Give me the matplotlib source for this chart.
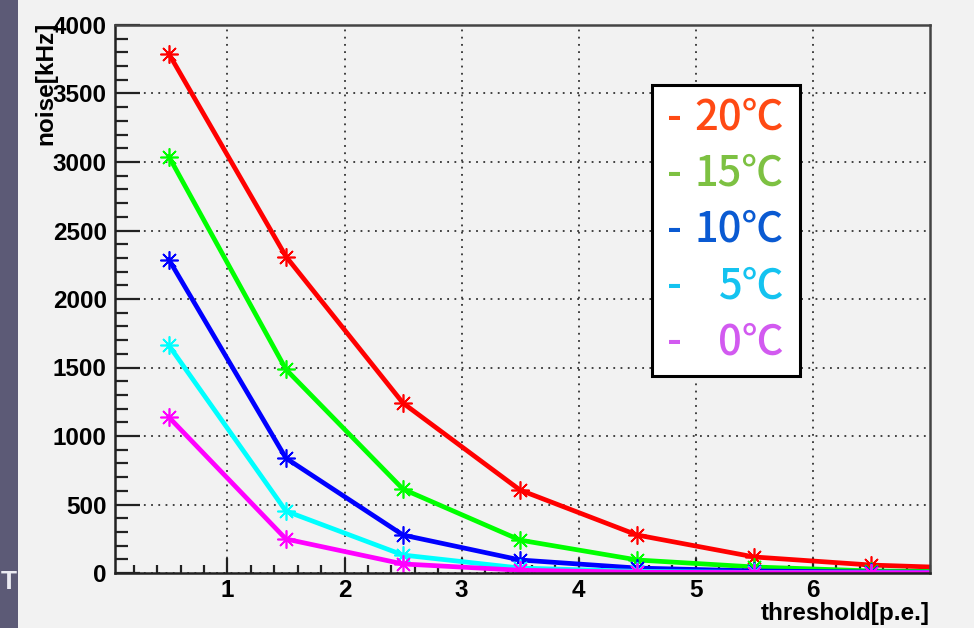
import matplotlib
matplotlib.use("Agg")
import matplotlib.pyplot as plt
from matplotlib.patches import Rectangle
from matplotlib.ticker import MultipleLocator

# Dark-count noise rate vs. discrimination threshold at several temperatures
threshold = [0.5, 1.5, 2.5, 3.5, 4.5, 5.5, 6.5, 7.5]
noise_20c = [3790, 2310, 1240, 605, 277, 117, 58, 30]
noise_15c = [3040, 1486, 612, 240, 95, 44, 15, 8]
noise_10c = [2288, 838, 277, 95, 36, 15, 7, 4]
noise_5c = [1661, 452, 131, 36, 12, 4, 2, 1]
noise_0c = [1137, 248, 66, 20, 6, 3, 2, 1]

series = [noise_20c, noise_15c, noise_10c, noise_5c, noise_0c]
line_colors = ["#ff0000", "#00ff00", "#0000ff", "#00ffff", "#ff00ff"]

legend_labels = ["20℃", "15℃", "10℃", "5℃", "0℃"]
legend_colors = ["#ff4a14", "#7dc142", "#0a5ad2", "#14c3f0", "#d25af0"]

W, H = 974, 628
fig = plt.figure(figsize=(W / 100, H / 100), dpi=100)
fig.patch.set_facecolor("#f2f2f2")

# slide background strip on the left edge
fig.add_artist(Rectangle((0, 0), 18 / W, 1, transform=fig.transFigure,
                         facecolor="#5c5a76", edgecolor="none", zorder=0))
fig.text(0.5 / W, 1 - 570 / H, "T", ha="left", va="top", color="#ebebf2",
         fontsize=19, fontweight="bold", fontfamily="Liberation Sans")

ax = fig.add_axes([115 / W, 1 - 573 / H, (930 - 115) / W, (573 - 25) / H])
ax.set_facecolor("#f2f2f2")

for vals, col in zip(series, line_colors):
    ax.plot(threshold, vals, color=col, linewidth=3.4,
            marker=(8, 2, 0), markersize=13, markeredgewidth=1.2,
            markeredgecolor=col, clip_on=True)

ax.set_xlim(0.04, 7.0)
ax.set_ylim(0, 4000)
ax.xaxis.set_major_locator(MultipleLocator(1))
ax.xaxis.set_minor_locator(MultipleLocator(0.2))
ax.yaxis.set_major_locator(MultipleLocator(500))
ax.yaxis.set_minor_locator(MultipleLocator(100))

ax.grid(True, which="major", color="#333333", linestyle=(0, (1, 3)),
        linewidth=1.3)
ax.set_axisbelow(True)

ax.tick_params(which="both", direction="in", top=False, right=False,
               width=1.6, color="#222222")
ax.tick_params(axis="y", which="major", length=18, pad=6)
ax.tick_params(axis="y", which="minor", length=9)
ax.tick_params(axis="x", which="major", length=11, pad=4)
ax.tick_params(axis="x", which="minor", length=6)

for lbl in ax.get_yticklabels():
    lbl.set_fontfamily("Liberation Sans")
    lbl.set_fontweight("bold")
    lbl.set_fontsize(17.5)

ax.set_xticks([1, 2, 3, 4, 5, 6])
ax.set_xticklabels(["1", "2", "3", "4", "5", "6"], fontfamily="Liberation Sans",
                   fontweight="bold", fontsize=17.5)

for side in ax.spines.values():
    side.set_color("#222222")
    side.set_linewidth(1.8)
ax.spines["top"].set_color("#444444")
ax.spines["right"].set_color("#444444")

fig.text(930 / W, 1 - 625 / H, "threshold[p.e.]", ha="right", va="bottom",
         fontfamily="Liberation Sans", fontweight="bold", fontsize=17.5)
fig.text(46 / W, 1 - 22 / H, "noise[kHz]", ha="center", va="top",
         rotation=90, fontfamily="Liberation Sans", fontweight="bold",
         fontsize=17.5)

# temperature key
fig.add_artist(Rectangle((652 / W, 1 - 376 / H), (800 - 652) / W,
                         (376 - 85) / H, transform=fig.transFigure,
                         facecolor="white", edgecolor="black",
                         linewidth=2.2, zorder=5))
row_y = [117, 173, 229, 286, 342]
key_font = ["Noto Sans CJK JP", "DejaVu Sans"]
for y, txt, col in zip(row_y, legend_labels, legend_colors):
    fig.text(667 / W, 1 - y / H, "-", ha="left", va="center", color=col,
             fontsize=30, fontweight="medium", fontfamily=key_font, zorder=6)
    fig.text(784 / W, 1 - y / H, txt, ha="right", va="center", color=col,
             fontsize=30, fontweight="medium", fontfamily=key_font, zorder=6)

fig.savefig("out.png", dpi=100, facecolor=fig.get_facecolor())
